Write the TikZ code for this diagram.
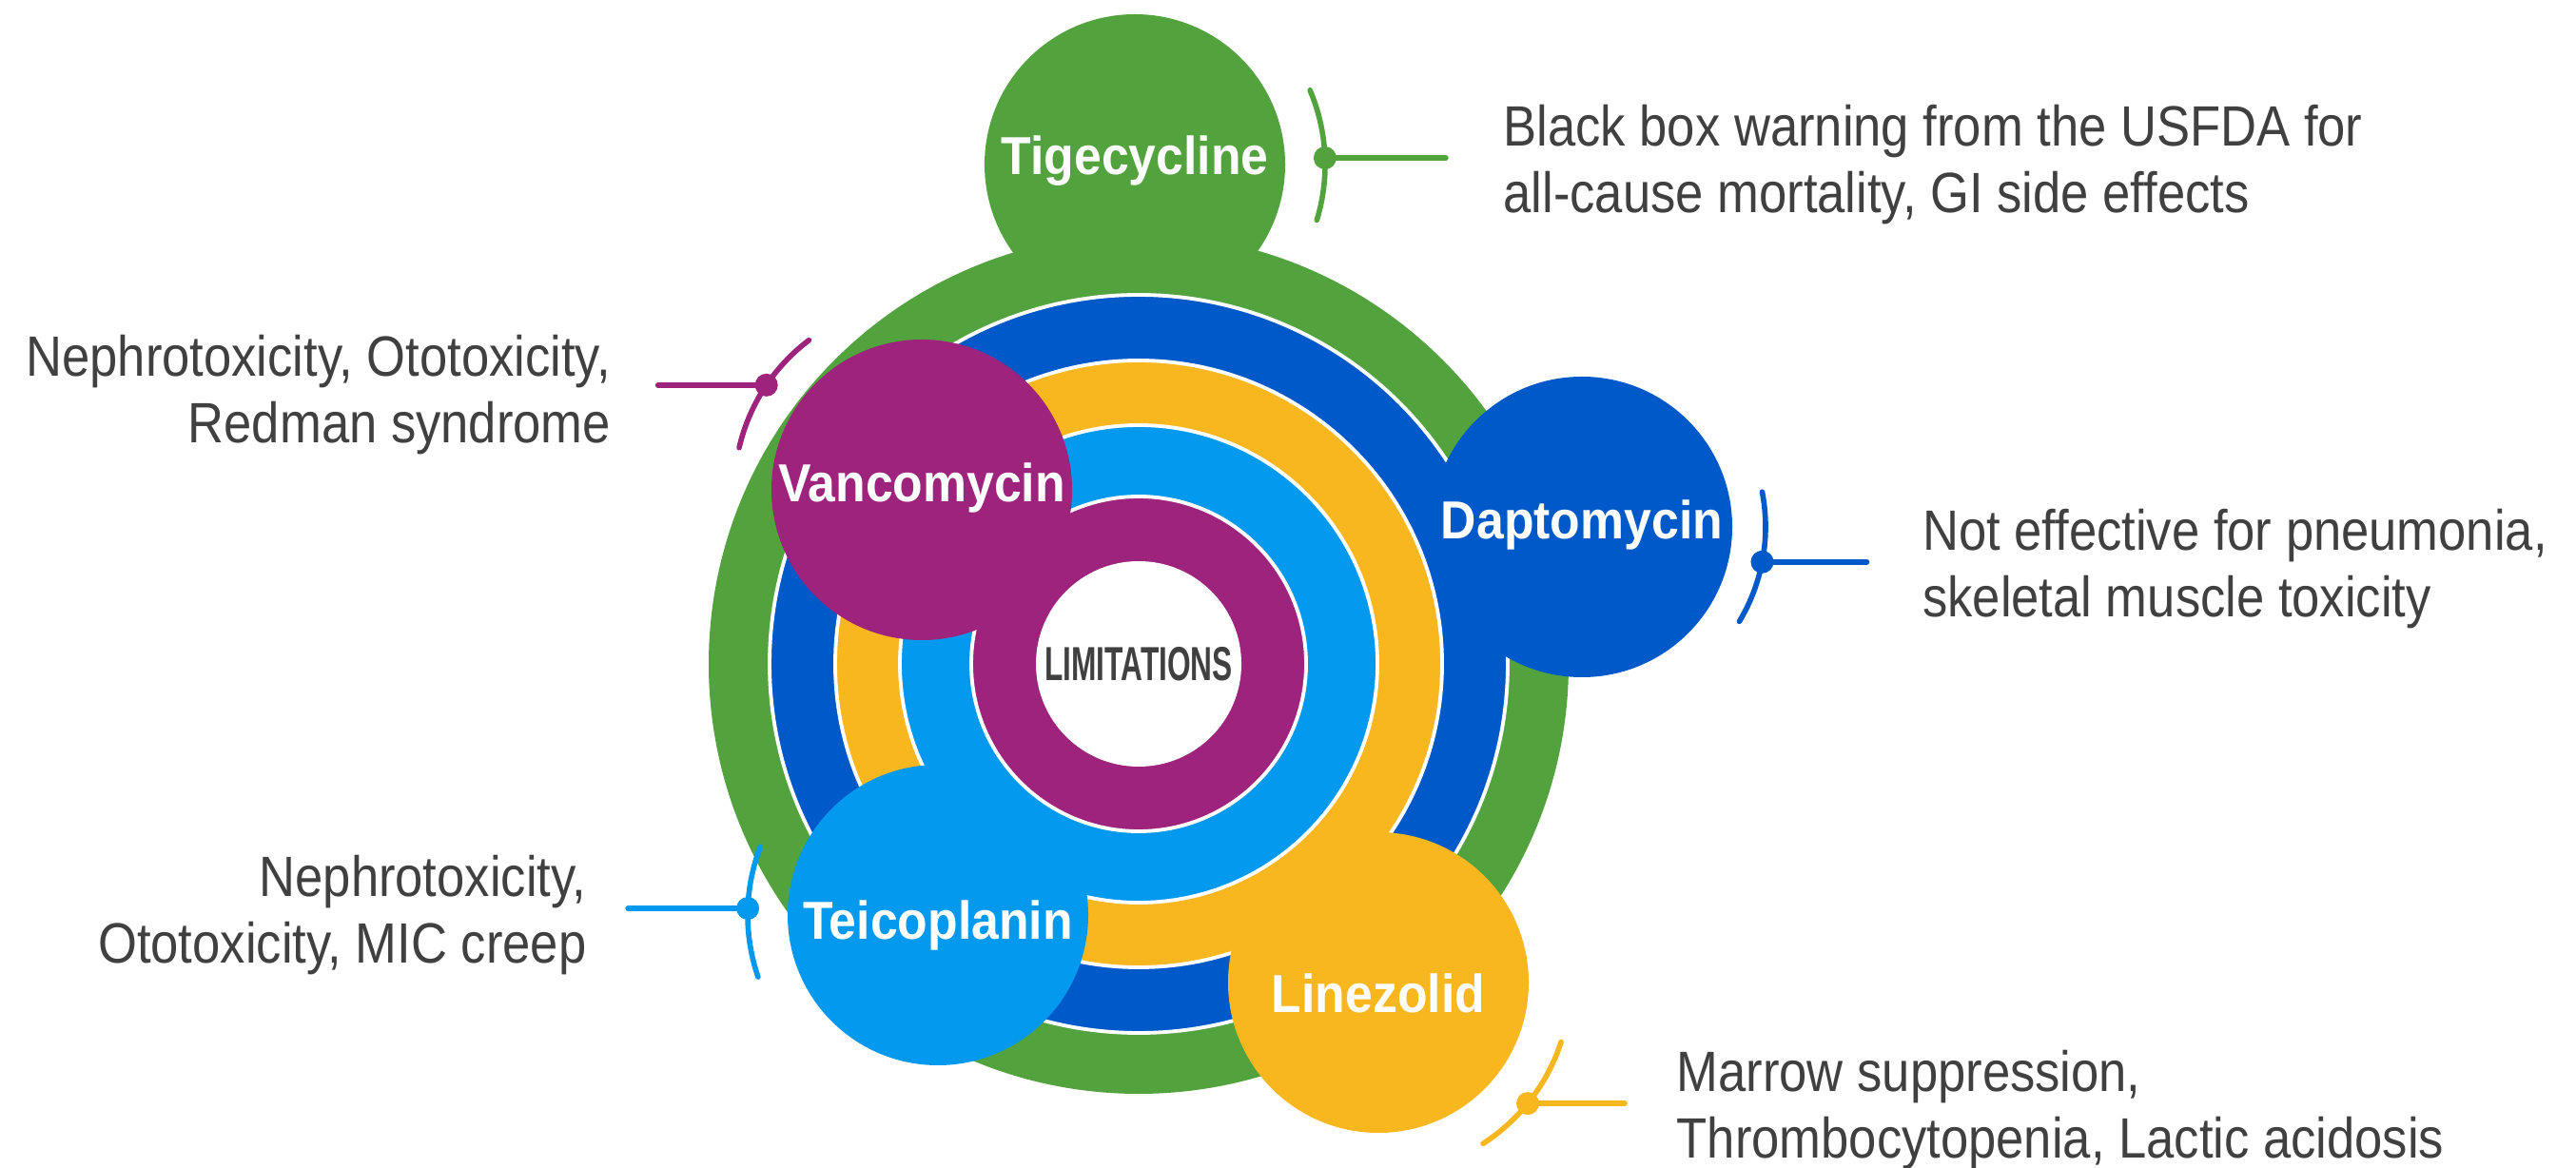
\documentclass[tikz,border=0pt]{standalone}
\usepackage{fontspec}
\setmainfont{Liberation Sans}
\newfontfamily\descfont[FakeStretch=0.88]{Liberation Sans}
\newfontfamily\labfont[FakeStretch=0.92]{Liberation Sans Bold}
\newfontfamily\limfont[FakeStretch=0.63]{Liberation Sans Bold}
\usetikzlibrary{positioning}

\definecolor{tgreen}{HTML}{52A23E}
\definecolor{dblue}{HTML}{0059C9}
\definecolor{lyellow}{HTML}{F8B71E}
\definecolor{lblue}{HTML}{0399EE}
\definecolor{vpurple}{HTML}{9D237D}
\definecolor{txtgray}{HTML}{404040}

\begin{document}
\begin{tikzpicture}[
    drug/.style={circle, minimum size=3.16cm, inner sep=0pt, text=white,
      text height=1.38ex, text depth=0pt,
      font=\labfont\fontsize{16}{18}\selectfont},
    ring/.style={draw=white, line width=1.1pt},
    tick/.style={line width=1.6pt, line cap=round},
    dot/.style={circle, minimum size=0.24cm, inner sep=0pt},
    note/.style={text=txtgray, inner sep=0pt, yshift=-0.07cm,
      font=\descfont\fontsize{17}{19.8}\selectfont},
  ]
  \useasboundingbox (0,0) rectangle (27.08,-12.28);
  \coordinate (c) at (11.97,-6.98);

  % rings, outside in, each with its drug
  \fill[tgreen] (c) circle (4.52);
  \node[drug, fill=tgreen] (tige) at (11.93,-1.73) {\raisebox{0.02cm}{Tigecycline}};

  \filldraw[ring, fill=dblue] (c) circle (3.88);
  \node[drug, fill=dblue] (dapt) at (16.63,-5.54) {Daptomycin};

  \filldraw[ring, fill=lyellow] (c) circle (3.19);
  \node[drug, fill=lyellow] (line) at (14.49,-10.33) {\raisebox{-0.19cm}{Linezolid}};

  \filldraw[ring, fill=lblue] (c) circle (2.51);
  \node[drug, fill=lblue] (teic) at (9.86,-9.62) {\raisebox{-0.13cm}{Teicoplanin}};

  \filldraw[ring, fill=vpurple] (c) circle (1.76);
  \node[drug, fill=vpurple] (vanc) at (9.69,-5.15) {Vancomycin};

  \node[circle, fill=white, minimum size=2.16cm, inner sep=0pt, text=txtgray,
    font=\limfont\fontsize{14.3}{16}\selectfont] (lim) at (c) {LIMITATIONS};

  % Tigecycline
  \draw[tick, tgreen] ([shift={(-17:2.0)}]tige.center) arc[start angle=-17, end angle=23, radius=2.0];
  \node[dot, fill=tgreen] (tdot) at ([shift={(2:2.0)}]tige.center) {};
  \coordinate (tend) at ([xshift=1.27cm]tdot.center);
  \draw[tick, tgreen] (tdot.center) -- (tend);
  \node[note, right=0.6cm of tend, align=left] (tnote)
    {Black box warning from the USFDA for\\all-cause mortality, GI side effects};

  % Vancomycin
  \draw[tick, vpurple] ([shift={(127:1.97)}]vanc.center) arc[start angle=127, end angle=167, radius=1.97];
  \node[dot, fill=vpurple] (vdot) at ([shift={(146:1.97)}]vanc.center) {};
  \coordinate (vend) at ([xshift=-1.14cm]vdot.center);
  \draw[tick, vpurple] (vdot.center) -- (vend);
  \node[note, left=0.49cm of vend, yshift=-0.03cm, align=right] (vnote)
    {Nephrotoxicity, Ototoxicity,\\Redman syndrome};

  % Daptomycin
  \draw[tick, dblue] ([shift={(-31:1.93)}]dapt.center) arc[start angle=-31, end angle=11, radius=1.93];
  \node[dot, fill=dblue] (ddot) at ([shift={(-11:1.93)}]dapt.center) {};
  \coordinate (dend) at ([xshift=1.10cm]ddot.center);
  \draw[tick, dblue] (ddot.center) -- (dend);
  \node[note, right=0.58cm of dend, align=left] (dnote)
    {Not effective for pneumonia,\\skeletal muscle toxicity};

  % Teicoplanin
  \draw[tick, lblue] ([shift={(159:2.0)}]teic.center) arc[start angle=159, end angle=199, radius=2.0];
  \node[dot, fill=lblue] (edot) at ([shift={(178:2.0)}]teic.center) {};
  \coordinate (eend) at ([xshift=-1.26cm]edot.center);
  \draw[tick, lblue] (edot.center) -- (eend);
  \node[note, left=0.43cm of eend, align=right] (enote)
    {Nephrotoxicity,\\Ototoxicity, MIC creep};

  % Linezolid
  \draw[tick, lyellow] ([shift={(-57:2.02)}]line.center) arc[start angle=-57, end angle=-18, radius=2.02];
  \node[dot, fill=lyellow] (ldot) at ([shift={(-39:2.02)}]line.center) {};
  \coordinate (lend) at ([xshift=1.02cm]ldot.center);
  \draw[tick, lyellow] (ldot.center) -- (lend);
  \node[note, right=0.54cm of lend, align=left] (lnote)
    {Marrow suppression,\\Thrombocytopenia, Lactic acidosis};
\end{tikzpicture}
\end{document}
